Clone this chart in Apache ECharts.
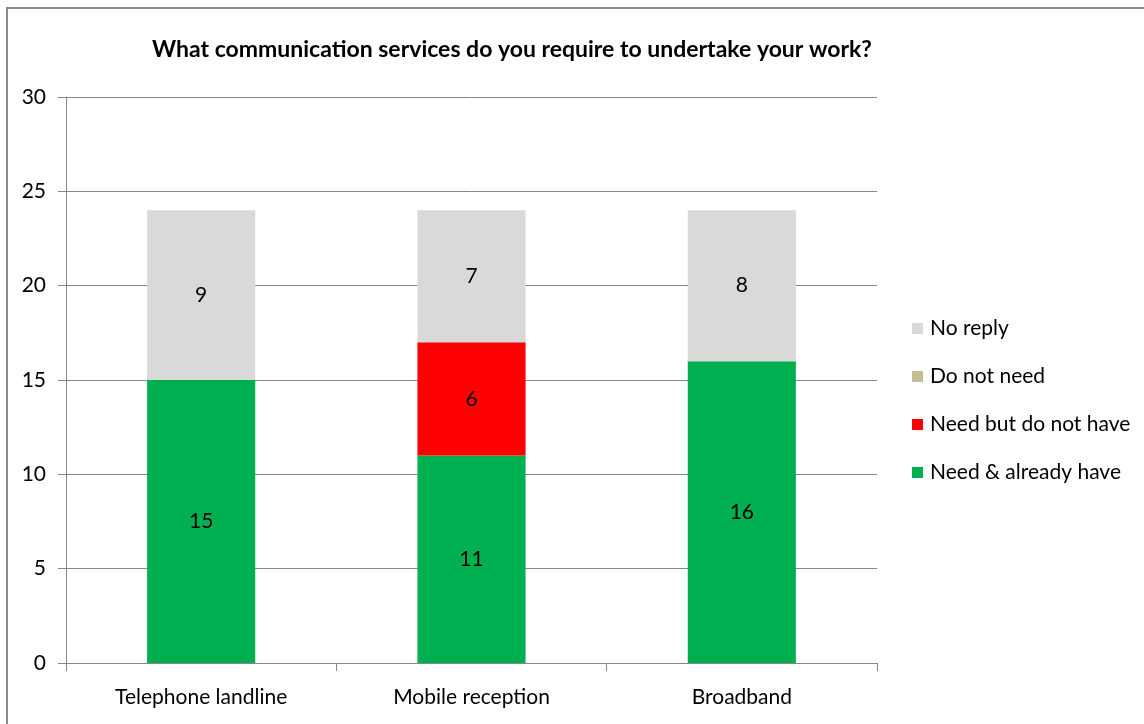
<!DOCTYPE html>
<html>
<head>
<meta charset="utf-8">
<script src="https://cdn.jsdelivr.net/npm/echarts@6/dist/echarts.min.js"></script>
<style>
  html, body { margin: 0; padding: 0; background: #ffffff; }
  #chart { width: 1144px; height: 724px; }
</style>
</head>
<body>
<div id="chart"></div>
<script>
// Survey answers per communication service
const categories = ['Telephone landline', 'Mobile reception', 'Broadband'];
const needAndHave = [15, 11, 16];
const needNotHave = [0, 6, 0];
const doNotNeed = [0, 0, 0];
const noReply = [9, 7, 8];
const legendOrder = ['No reply', 'Do not need', 'Need but do not have', 'Need & already have'];

const FONT = 'Lato, "Liberation Sans", sans-serif';
const AXIS_GREY = '#868686';

const chart = echarts.init(document.getElementById('chart'), null, { renderer: 'canvas' });

function seg(name, data, color) {
  return {
    name: name,
    type: 'bar',
    stack: 'total',
    data: data,
    barWidth: '40%',
    itemStyle: { color: color },
    label: {
      show: true,
      position: 'inside',
      color: '#000000',
      fontFamily: FONT,
      fontSize: 21,
      formatter: p => (p.value ? String(p.value) : '')
    },
    emphasis: { disabled: true }
  };
}

chart.setOption({
  animation: false,
  backgroundColor: '#ffffff',
  title: {
    text: 'What communication services do you require to undertake your work?',
    left: 507,
    textAlign: 'center',
    top: 33,
    textStyle: { fontFamily: FONT, fontWeight: 'bold', fontSize: 23, color: '#000000' }
  },
  graphic: [{
    type: 'rect',
    shape: { x: 7, y: 8, width: 1300, height: 900 },
    style: { fill: 'none', stroke: '#8a8a8a', lineWidth: 2 },
    silent: true
  }],
  legend: {
    data: legendOrder,
    orient: 'vertical',
    left: 907,
    top: 313,
    itemWidth: 11,
    itemHeight: 11,
    itemGap: 27,
    icon: 'rect',
    textStyle: { fontFamily: FONT, fontSize: 21, color: '#000000', padding: [0, 0, 0, 2] },
    selectedMode: false
  },
  grid: { left: 66, right: 267, top: 97, bottom: 61, containLabel: false },
  xAxis: {
    type: 'category',
    data: categories,
    axisLine: { show: true, lineStyle: { color: AXIS_GREY, width: 1 } },
    axisTick: { show: true, length: 8, lineStyle: { color: AXIS_GREY } },
    axisLabel: { fontFamily: FONT, fontSize: 21, color: '#000000', margin: 24 }
  },
  yAxis: {
    type: 'value',
    min: 0,
    max: 30,
    interval: 5,
    axisLine: { show: true, lineStyle: { color: AXIS_GREY, width: 1 } },
    axisTick: { show: true, length: 8, lineStyle: { color: AXIS_GREY } },
    axisLabel: { fontFamily: FONT, fontSize: 21, color: '#000000', margin: 20 },
    splitLine: { show: true, lineStyle: { color: AXIS_GREY, width: 1 } }
  },
  series: [
    seg('Need & already have', needAndHave, '#00B050'),
    seg('Need but do not have', needNotHave, '#FF0000'),
    seg('Do not need', doNotNeed, '#C4BD97'),
    seg('No reply', noReply, '#D9D9D9')
  ]
});
</script>
</body>
</html>
